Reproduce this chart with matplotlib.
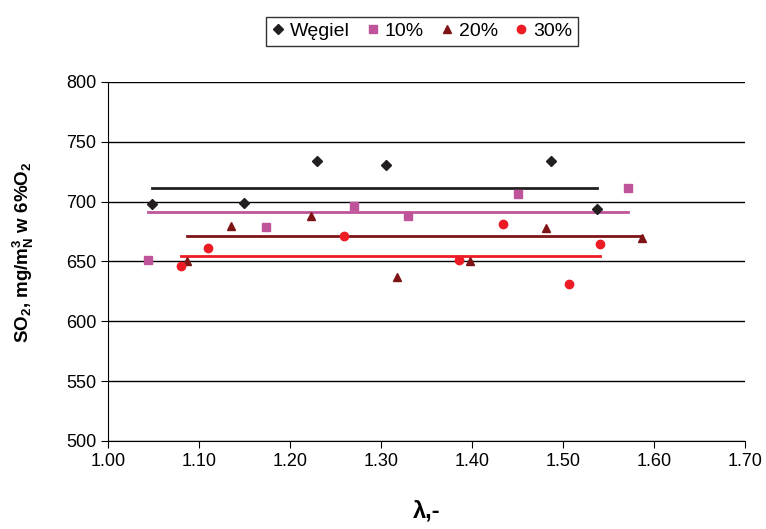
import matplotlib
matplotlib.use('Agg')
import matplotlib.pyplot as plt

plt.rcParams['font.family'] = ['Liberation Sans', 'DejaVu Sans']
plt.rcParams['mathtext.fontset'] = 'custom'
plt.rcParams['mathtext.rm'] = 'Liberation Sans:bold'
plt.rcParams['mathtext.bf'] = 'Liberation Sans:bold'
plt.rcParams['mathtext.default'] = 'bf'

# dane
x_wegiel = [1.048, 1.149, 1.230, 1.305, 1.487, 1.537]
y_wegiel = [698, 699, 734, 731, 734, 694]
x_10 = [1.044, 1.174, 1.270, 1.330, 1.451, 1.571]
y_10 = [651, 679, 696, 688, 706, 711]
x_20 = [1.087, 1.135, 1.223, 1.318, 1.398, 1.481, 1.587]
y_20 = [650, 680, 688, 637, 650, 678, 670]
x_30 = [1.080, 1.110, 1.259, 1.386, 1.434, 1.507, 1.541]
y_30 = [646, 661, 671, 651, 681, 631, 665]
# poziomy linii srednich
mean_wegiel = 711
mean_10 = 691
mean_20 = 671
mean_30 = 655

labels = ['Węgiel', '10%', '20%', '30%']
colors = ['#231f20', '#c0549a', '#7f1416', '#ed1c24']
markers = ['D', 's', '^', 'o']
sizes = [5, 6, 6, 6]

fig = plt.figure(figsize=(7.66, 5.29), dpi=100)
ax = fig.add_axes([0.141, 0.1664, 0.8316, 0.6786])

series = [(x_wegiel, y_wegiel, mean_wegiel), (x_10, y_10, mean_10),
          (x_20, y_20, mean_20), (x_30, y_30, mean_30)]
for (xs, ys, m), lab, c, mk, ms in zip(series, labels, colors, markers, sizes):
    ax.plot(xs, ys, linestyle='none', marker=mk, color=c, markersize=ms, label=lab, zorder=3)
    ax.plot([min(xs), max(xs)], [m, m], color=c, linewidth=2, zorder=2)

ax.set_xlim(1.0, 1.7)
ax.set_ylim(500, 800)
ax.set_xticks([1.0 + 0.1 * i for i in range(8)])
ax.set_xticklabels(['%.2f' % (1.0 + 0.1 * i) for i in range(8)])
ax.set_yticks(range(500, 801, 50))
ax.yaxis.grid(True, color='black', linewidth=1)
ax.set_axisbelow(True)
ax.spines['top'].set_visible(False)
ax.spines['right'].set_visible(False)
ax.tick_params(labelsize=13, direction='out', length=5)

ax.set_xlabel('λ,-', fontsize=17, fontweight='bold', va='center')
ax.xaxis.set_label_coords(0.5, -0.195)
ax.set_ylabel('SO$_2$, mg/m$_N^3$ w 6%O$_2$', fontsize=13.5, fontweight='bold', va='center')
ax.yaxis.set_label_coords(-0.132, 0.526)

fig.legend(loc='center', bbox_to_anchor=(0.551, 0.941), ncol=4, fontsize=14,
           frameon=True, fancybox=False, edgecolor='black', handlelength=0.6,
           handletextpad=0.3, columnspacing=0.9, borderpad=0.3)

plt.savefig('out.png', dpi=100)
